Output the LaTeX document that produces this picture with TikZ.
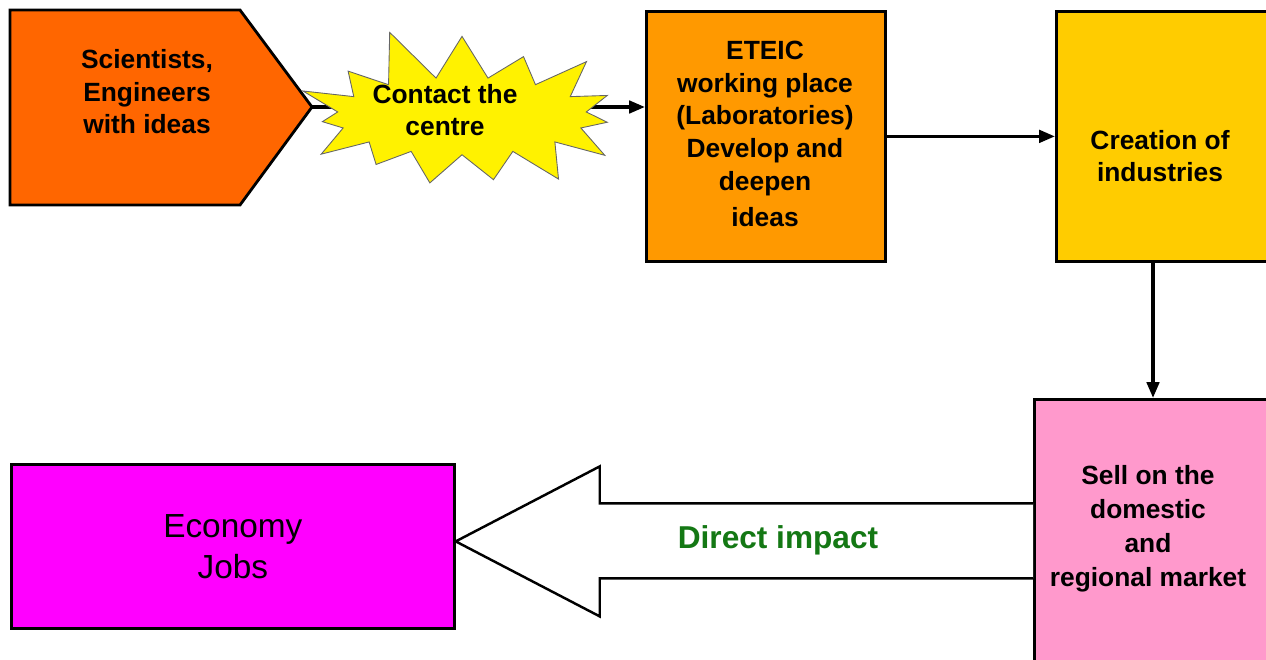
\documentclass[tikz,border=0pt]{standalone}
\usepackage{fontspec}
\setmainfont{Liberation Sans}
\usetikzlibrary{shapes.symbols,arrows.meta,calc}

\definecolor{scired}{RGB}{255,102,0}
\definecolor{eteicorange}{RGB}{255,153,0}
\definecolor{creatgold}{RGB}{255,204,0}
\definecolor{sellpink}{RGB}{255,153,204}
\definecolor{ecomagenta}{RGB}{255,0,255}
\definecolor{impactgreen}{RGB}{20,120,20}

\begin{document}
\begin{tikzpicture}[x=0.02cm,y=-0.02cm,
	box/.style={draw=black,line width=1.6pt,anchor=north west,inner sep=0pt},
	lbl/.style={align=center,font=\fontsize{15}{18.5}\selectfont\bfseries},
	flow/.style={line width=2pt,-{Triangle[length=9pt,width=7pt]}}]

\useasboundingbox (0,0) rectangle (1266,659);

% top row
\draw[line width=1.6pt,fill=scired] (10,10) -- (240,10) -- (312,107) -- (240,205) -- (10,205) -- cycle;
\coordinate (scitip) at (312,107);
\node[lbl] (sci) at (147,92) {Scientists,\\Engineers\\with ideas};

\node[box,fill=eteicorange,minimum width=4.78cm,minimum height=5cm] (eteic) at (645,10) {};
\node[lbl,font=\fontsize{15}{18.7}\selectfont\bfseries] (eteictxt) at (765,134) {ETEIC\\working place\\(Laboratories)\\Develop and\\deepen\\[2pt]ideas};

\node[box,fill=creatgold,minimum width=4.4cm,minimum height=5cm] (creat) at (1055,10) {};
\node[lbl] (creattxt) at (1160,156) {Creation of\\industries};

\draw[flow] (scitip) -- (scitip -| eteic.west);
\node[starburst,starburst points=15,starburst point height=1.1cm,random starburst=11,
	fill=yellow,draw=black!60,line width=0.5pt,minimum width=7.2cm,minimum height=3.75cm,
	lbl] (contact) at (462,116) {};
\node[lbl] (contacttxt) at (445,110) {Contact the\\centre};

\draw[flow] (eteic.east) -- (eteic.east -| creat.west);

% bottom row
\node[box,fill=sellpink,minimum width=4.84cm,minimum height=5.4cm] (sell) at (1033,398) {};
\node[lbl,font=\fontsize{15}{19.3}\selectfont\bfseries] (selltxt) at (1148,529) {Sell on the\\domestic\\and\\regional market};

\draw[flow] (1153,0 |- creat.south) -- (1153,0 |- sell.north);

\node[box,fill=ecomagenta,minimum width=8.86cm,minimum height=3.28cm,
	align=center,font=\fontsize{19}{23.5}\selectfont] (eco) at (10,463) {Economy\\Jobs};

\coordinate (tip) at ($(eco.east)+(0,-5)$);
\draw[line width=1.4pt,fill=white] (tip -| sell.west) ++(0,-38) -- ($(tip)+(144,-38)$) -- ($(tip)+(144,-75)$)
	-- (tip) -- ($(tip)+(144,75)$) -- ($(tip)+(144,37)$) -- ($(tip -| sell.west)+(0,37)$);
\node[font=\fontsize{18}{22}\selectfont\bfseries,text=impactgreen] (impact) at (778,540) {Direct impact};

\end{tikzpicture}
\end{document}
